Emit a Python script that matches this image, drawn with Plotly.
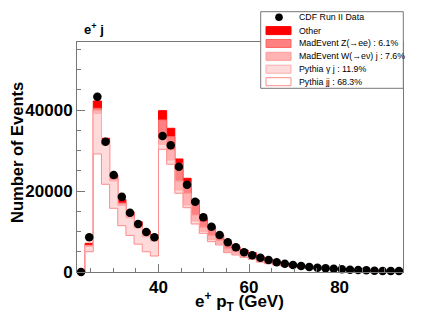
import plotly.graph_objects as go

# ---------------- data ----------------
BIN_LOW = 22.0
BIN_WIDTH = 1.8
N_BINS = 40

data_counts = [0, 8570, 43290, 32170, 23950, 18600, 14650, 11850, 9900, 8570,
               33580, 31280, 26010, 21550, 17370, 13500, 11200, 9140, 7330, 6100,
               4870, 4150, 3530, 2960, 2400, 2050, 1730, 1480, 1240, 1060,
               910, 810, 670, 570, 490, 420, 330, 260, 250, 230]

pythia_jj = [0, 5010, 29150, 21660, 15730, 11430, 9040, 6880, 5010, 3950,
             30300, 26600, 19440, 15880, 11860, 9550, 7490, 6670, 4770, 4200,
             3630, 3140, 2440, 2050, 1720, 1450, 1220, 1020, 860, 725,
             625, 530, 450, 383, 323, 270, 231, 198, 172, 145]
pythia_gj = [0, 1290, 10040, 9710, 6750, 4990, 4300, 3990, 3690, 3710,
             1240, 1060, 810, 670, 740, 500, 500, 350, 330, 290,
             250, 230, 185, 155, 130, 110, 95, 80, 65, 55,
             48, 40, 34, 29, 25, 21, 18, 15, 13, 11]
madevent_w = [0, 170, 740, 340, 400, 370, 440, 440, 420, 440,
              1480, 2470, 2230, 2890, 1480, 1000, 1000, 700, 650, 570,
              500, 450, 370, 310, 260, 220, 185, 155, 130, 110,
              95, 80, 68, 58, 49, 41, 35, 30, 26, 22]
madevent_z = [0, 120, 500, 230, 260, 250, 300, 300, 280, 300,
              4520, 3290, 4360, 2710, 2890, 1500, 1600, 1000, 950, 850,
              750, 680, 480, 400, 340, 290, 240, 200, 170, 145,
              125, 104, 88, 75, 64, 53, 45, 39, 34, 29]
other = [0, 500, 1810, 1080, 820, 910, 810, 810, 700, 740,
         2300, 2070, 1070, 990, 810, 650, 600, 420, 390, 340,
         300, 270, 225, 185, 150, 130, 110, 95, 75, 65,
         57, 46, 40, 35, 29, 25, 21, 18, 15, 13]

legend_labels = ["CDF Run II Data", "Other", "MadEvent Z(\u2192ee) : 6.1%",
                 "MadEvent W(\u2192e\u03bd) j : 7.6%", "Pythia \u03b3 j : 11.9%",
                 "Pythia jj : 68.3%"]

x_title = "e<sup>+</sup> p<sub>T</sub> (GeV)"
y_title = "Number of Events"
channel_label = "e<sup>+</sup> j"

# ---------------- helpers ----------------
edges = [BIN_LOW + BIN_WIDTH * i for i in range(N_BINS + 1)]
centers = [(edges[i] + edges[i + 1]) / 2 for i in range(N_BINS)]


def cumulate(*layers):
    return [sum(v) for v in zip(*layers)]


def step_xy(vals):
    xs = [edges[0]] + edges[:-1] + [edges[-1], edges[-1]]
    ys = [0] + list(vals) + [vals[-1], 0]
    return xs, ys


c_jj = cumulate(pythia_jj)
c_gj = cumulate(pythia_jj, pythia_gj)
c_w = cumulate(pythia_jj, pythia_gj, madevent_w)
c_z = cumulate(pythia_jj, pythia_gj, madevent_w, madevent_z)
c_tot = cumulate(pythia_jj, pythia_gj, madevent_w, madevent_z, other)

FILL = {"other": "#ff0000", "z": "#ff8080", "w": "#ffb3b3", "gj": "#ffdada", "jj": "#ffffff"}
LINE = {"other": "#ff0000", "z": "#ff6666", "w": "#ff9999", "gj": "#ffadad", "jj": "#ff8c8c"}

fig = go.Figure()
for key, vals in [("other", c_tot), ("z", c_z), ("w", c_w), ("gj", c_gj), ("jj", c_jj)]:
    xs, ys = step_xy(vals)
    fig.add_trace(go.Scatter(x=xs, y=ys, mode="lines", line=dict(shape="hv", color=LINE[key], width=1),
                             fill="tozeroy", fillcolor=FILL[key], showlegend=False, hoverinfo="skip"))

fig.add_trace(go.Scatter(x=centers, y=data_counts, mode="markers",
                         marker=dict(color="black", size=8.5, line=dict(width=0)),
                         cliponaxis=False, showlegend=False))

# ---------------- layout ----------------
PAGE_OFF = 8  # body margin of the html page
W, H = 416, 311
ML, MR, MT, MB = 69, 21, 34, 47
PW, PH = W - ML - MR, H - MT - MB


def px(xp):
    return (xp - PAGE_OFF - ML) / PW


def py(yp):
    return (H - MB - (yp - PAGE_OFF)) / PH


AX = "#777777"
tickfont = dict(family="Liberation Sans, Arial, sans-serif", size=17, color="black", weight="bold")

fig.update_layout(
    width=W, height=H, autosize=False,
    margin=dict(l=ML, r=MR, t=MT, b=MB, pad=0),
    paper_bgcolor="white", plot_bgcolor="white",
    showlegend=False,
    xaxis=dict(range=[BIN_LOW, BIN_LOW + BIN_WIDTH * N_BINS], tick0=0, dtick=20,
               ticks="inside", ticklen=8, tickcolor=AX, tickwidth=1,
               showline=True, linecolor=AX, linewidth=1, mirror=True,
               showgrid=False, zeroline=False, tickfont=tickfont,
               minor=dict(dtick=5, tick0=0, ticks="inside", ticklen=4, tickcolor=AX, showgrid=False)),
    yaxis=dict(range=[0, 56800], tick0=0, dtick=20000, tickformat="d",
               ticks="inside", ticklen=8, tickcolor=AX, tickwidth=1,
               showline=True, linecolor=AX, linewidth=1, mirror=True,
               showgrid=False, zeroline=False, tickfont=tickfont,
               minor=dict(dtick=5000, tick0=0, ticks="inside", ticklen=4, tickcolor=AX, showgrid=False)),
)

font_b = dict(family="Liberation Sans, Arial, sans-serif", color="black", weight="bold")
ann = []
ann.append(dict(text=x_title, x=px(239.5), y=py(301), xref="paper", yref="paper",
                showarrow=False, xanchor="center", yanchor="middle", font=dict(size=17, **font_b)))
ann.append(dict(text=y_title, x=px(17), y=py(153), xref="paper", yref="paper", textangle=-90,
                showarrow=False, xanchor="center", yanchor="middle", font=dict(size=16.5, **font_b)))
ann.append(dict(text=channel_label, x=px(82), y=py(29), xref="paper", yref="paper",
                showarrow=False, xanchor="left", yanchor="middle", font=dict(size=13, **font_b)))

shapes = []
shapes.append(dict(type="rect", xref="paper", yref="paper", x0=px(260.7), x1=px(403.3),
                   y0=py(88.3), y1=py(11.7), fillcolor="white", line=dict(color=AX, width=1), layer="above"))
rows = [17.3, 30.6, 43.5, 56.3, 69.2, 81.7]
shapes.append(dict(type="circle", xref="paper", yref="paper", x0=px(275.2), x1=px(282.8),
                   y0=py(rows[0] + 3.8), y1=py(rows[0] - 3.8), fillcolor="black", line=dict(width=0), layer="above"))
for key, yr in zip(["other", "z", "w", "gj", "jj"], rows[1:]):
    shapes.append(dict(type="rect", xref="paper", yref="paper", x0=px(266), x1=px(291),
                       y0=py(yr + 4), y1=py(yr - 4), fillcolor=FILL[key],
                       line=dict(color=LINE[key], width=1), layer="above"))
for lab, yr in zip(legend_labels, rows):
    ann.append(dict(text=lab, x=px(296.5), y=py(yr), xref="paper", yref="paper", showarrow=False,
                    xanchor="left", yanchor="middle",
                    font=dict(family="Liberation Sans, Arial, sans-serif", size=8.8, color="black")))

fig.update_layout(annotations=ann, shapes=shapes)
fig.write_html("out.html")
